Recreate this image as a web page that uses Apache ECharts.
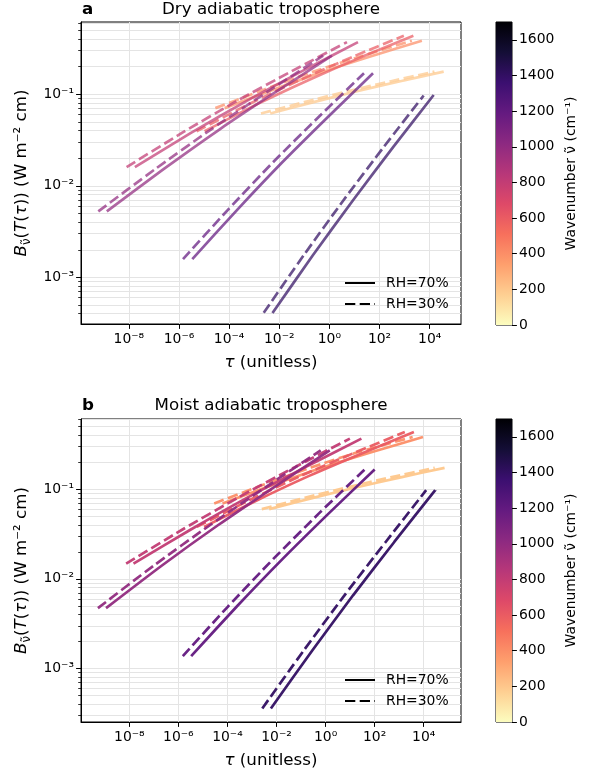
<!DOCTYPE html>
<html><head><meta charset="utf-8">
<script src="https://cdn.jsdelivr.net/npm/echarts@6/dist/echarts.min.js"></script>
<style>html,body{margin:0;padding:0;background:#fff}#c{width:594px;height:772px}</style>
</head><body><div id="c"></div><script>
// ---------------- data ----------------
const wavenumbers = [200, 400, 600, 800, 1000, 1200, 1400];
const xTickExps = [-8, -6, -4, -2, 0, 2, 4];
const yTickExps = [-3, -2, -1];
const colorbarTicks = [0, 200, 400, 600, 800, 1000, 1200, 1400, 1600];
const legendNames = ['RH=70%', 'RH=30%'];

// Panel a: dry adiabatic troposphere. log10(tau) and B (W m^-2 cm), one row per wavenumber
const dryLogTau70 = [
  [-2.36, -0.63, 1.10, 2.83, 4.56],
  [-4.18, -2.21, -0.24, 1.73, 3.69],
  [-4.98, -2.90, -0.80, 1.30, 3.35],
  [-7.76, -5.54, -3.31, -1.09, 1.14],
  [-8.88, -6.63, -4.39, -2.14, 0.10],
  [-5.47, -3.67, -1.87, -0.07, 1.74],
  [-2.27, -0.66, 0.95, 2.55, 4.16]
];
const dryB70 = [
  [0.0617, 0.0822, 0.108, 0.139, 0.177],
  [0.0706, 0.113, 0.177, 0.264, 0.385],
  [0.0394, 0.0776, 0.1445, 0.257, 0.437],
  [0.0160, 0.0376, 0.0843, 0.179, 0.372],
  [0.00525, 0.0151, 0.0412, 0.106, 0.264],
  [0.00158, 0.0055, 0.0182, 0.0562, 0.170],
  [0.000407, 0.00174, 0.0070, 0.0266, 0.0982]
];
const dryLogTau30 = [
  [-2.73, -1.00, 0.73, 2.46, 4.19],
  [-4.55, -2.59, -0.63, 1.33, 3.29],
  [-5.30, -3.23, -1.15, 0.93, 2.97],
  [-8.09, -5.90, -3.70, -1.50, 0.70],
  [-9.22, -6.97, -4.73, -2.48, -0.25],
  [-5.84, -4.04, -2.24, -0.44, 1.38],
  [-2.62, -1.02, 0.57, 2.17, 3.76]
];
const dryB30 = [
  [0.0617, 0.0822, 0.108, 0.139, 0.177],
  [0.0706, 0.113, 0.177, 0.264, 0.385],
  [0.0394, 0.0776, 0.1445, 0.257, 0.437],
  [0.0160, 0.0376, 0.0843, 0.179, 0.372],
  [0.00525, 0.0151, 0.0412, 0.106, 0.264],
  [0.00158, 0.0055, 0.0182, 0.0562, 0.170],
  [0.000410, 0.00175, 0.0070, 0.0266, 0.097]
];

// Panel b: moist adiabatic troposphere
const moistLogTau70 = [
  [-2.30, -0.51, 1.28, 3.06, 4.85],
  [-4.20, -2.16, -0.12, 1.93, 3.97],
  [-4.95, -2.81, -0.67, 1.47, 3.60],
  [-7.83, -5.51, -3.19, -0.86, 1.46],
  [-8.95, -6.67, -4.39, -2.11, 0.17],
  [-5.48, -3.61, -1.74, 0.13, 2.00],
  [-2.23, -0.55, 1.12, 2.80, 4.47]
];
const moistB70 = [
  [0.0600, 0.0800, 0.105, 0.1355, 0.1726],
  [0.0693, 0.111, 0.174, 0.261, 0.381],
  [0.0380, 0.0748, 0.1406, 0.250, 0.434],
  [0.0148, 0.0353, 0.0805, 0.174, 0.366],
  [0.00472, 0.0141, 0.0396, 0.105, 0.271],
  [0.00138, 0.00495, 0.0168, 0.0537, 0.166],
  [0.00036, 0.00158, 0.00656, 0.0258, 0.0975]
];
const moistLogTau30 = [
  [-2.60, -0.85, 0.90, 2.65, 4.45],
  [-4.54, -2.57, -0.60, 1.37, 3.55],
  [-5.25, -3.13, -1.01, 1.11, 3.23],
  [-8.13, -5.85, -3.57, -1.29, 0.99],
  [-9.28, -7.00, -4.72, -2.45, -0.20],
  [-5.82, -3.97, -2.12, -0.27, 1.60],
  [-2.58, -0.90, 0.77, 2.45, 4.10]
];
const moistB30 = [
  [0.0600, 0.0800, 0.105, 0.1355, 0.1726],
  [0.0693, 0.111, 0.174, 0.261, 0.381],
  [0.0380, 0.0748, 0.1406, 0.250, 0.434],
  [0.0148, 0.0353, 0.0805, 0.174, 0.366],
  [0.00472, 0.0141, 0.0396, 0.105, 0.271],
  [0.00138, 0.00495, 0.0168, 0.0537, 0.166],
  [0.00036, 0.00158, 0.00656, 0.0258, 0.0975]
];

// ---------------- styling ----------------
const FONT = 'DejaVu Sans';
const magmaStops = ['#000004','#140e36','#3b0f70','#641a80','#8c2981','#b73779','#de4968','#f7705c','#fe9f6d','#fecf92','#fcfdbf'];
function hex2rgb(h){return [parseInt(h.slice(1,3),16),parseInt(h.slice(3,5),16),parseInt(h.slice(5,7),16)];}
function magma(t){
  t = Math.max(0, Math.min(1, t));
  const p = t * 10, i = Math.min(9, Math.floor(p)), f = p - i;
  const a = hex2rgb(magmaStops[i]), b = hex2rgb(magmaStops[i+1]);
  const c = a.map((v,k)=>Math.round(v + (b[k]-v)*f));
  return 'rgb(' + c.join(',') + ')';
}
function cmap(nu){ return magma(1 - nu/1700); }
const supMap = {'-':'\u207B','0':'\u2070','1':'\u00B9','2':'\u00B2','3':'\u00B3','4':'\u2074','5':'\u2075','6':'\u2076','7':'\u2077','8':'\u2078','9':'\u2079'};
function pow10Label(v){ return '10' + String(Math.round(v)).split('').map(c=>supMap[c]).join(''); }

function minorVals(lo, hi){
  const out = [];
  for (let n = -5; n <= 0; n++) for (let k = 2; k <= 9; k++) { const v = n + Math.log10(k); if (v > lo && v < hi) out.push(v); }
  return out;
}

const panels = [
  {grid:{left:81, top:22, width:380, height:302}, cb:{left:496, top:22, width:16, height:303},
   x:[-9.91, 5.25], y:[-3.51, -0.21], title:'Dry adiabatic troposphere', letter:'a', titleTop:1,
   l70:dryLogTau70, b70:dryB70, l30:dryLogTau30, b30:dryB30, opacity:0.72, legendTop:276},
  {grid:{left:81, top:419, width:380, height:303}, cb:{left:496, top:419, width:16, height:303},
   x:[-9.97, 5.52], y:[-3.595, -0.218], title:'Moist adiabatic troposphere', letter:'b', titleTop:397,
   l70:moistLogTau70, b70:moistB70, l30:moistLogTau30, b30:moistB30, opacity:0.95, legendTop:673}
];

const grid = [], xAxis = [], yAxis = [], series = [], title = [], legend = [];
const gridColor = '#e4e4e4';
panels.forEach((P, pi) => {
  const g = grid.length;
  grid.push(Object.assign({show:true, borderColor:'#000', borderWidth:1, backgroundColor:'transparent', containLabel:false, outerBoundsMode:'none'}, P.grid));
  grid.push(Object.assign({show:true, borderColor:'#000', borderWidth:1, containLabel:false, outerBoundsMode:'none'}, P.cb));
  const xi = xAxis.length;
  xAxis.push({type:'value', gridIndex:g, min:P.x[0], max:P.x[1], position:'bottom',
    axisLine:{show:true, onZero:false, lineStyle:{color:'#000', width:1}},
    axisTick:{show:true, length:4.9, customValues:xTickExps, lineStyle:{color:'#000', width:1}},
    axisLabel:{show:true, customValues:xTickExps, formatter:pow10Label, margin:8, color:'#000', fontFamily:FONT, fontSize:13.9},
    splitLine:{show:true, lineStyle:{color:gridColor, width:1}},
    name:'{i|\u03C4} (unitless)', nameLocation:'middle', nameGap:30,
    nameTextStyle:{fontFamily:FONT, fontSize:16.7, color:'#000', rich:{i:{fontFamily:FONT, fontStyle:'italic', fontSize:16.7, color:'#000'}}}
  });
  xAxis.push({type:'category', gridIndex:g+1, data:['c'], show:false, boundaryGap:true});
  const yi = yAxis.length;
  yAxis.push({type:'value', gridIndex:g, min:P.y[0], max:P.y[1], position:'left',
    axisLine:{show:true, onZero:false, lineStyle:{color:'#000', width:1}},
    axisTick:{show:true, length:4.9, customValues:yTickExps, lineStyle:{color:'#000', width:1}},
    axisLabel:{show:true, customValues:yTickExps, formatter:pow10Label, margin:7, color:'#000', fontFamily:FONT, fontSize:13.9},
    splitLine:{show:true, lineStyle:{color:gridColor, width:1}},
    name:'{i|B}{s|\u03BD\u0303}({i|T}({i|\u03C4})) (W m\u207B\u00B2 cm)', nameLocation:'middle', nameGap:47, nameRotate:90,
    nameTextStyle:{fontFamily:FONT, fontSize:16.7, color:'#000', lineHeight:22,
      rich:{i:{fontFamily:FONT, fontStyle:'italic', fontSize:16.7, color:'#000', lineHeight:22},
            s:{fontFamily:FONT, fontSize:11.7, color:'#000', verticalAlign:'bottom', lineHeight:14}}}
  });
  yAxis.push({type:'value', gridIndex:g, min:P.y[0], max:P.y[1], position:'left', offset:0,
    axisLine:{show:false, onZero:false}, axisLabel:{show:false},
    axisTick:{show:true, length:2.8, customValues:minorVals(P.y[0], P.y[1]), lineStyle:{color:'#000', width:0.8}},
    splitLine:{show:true, lineStyle:{color:gridColor, width:1}}
  });
  const cbyi = yAxis.length;
  yAxis.push({type:'value', gridIndex:g+1, min:0, max:1700, position:'right',
    axisLine:{show:false, onZero:false},
    axisTick:{show:true, length:4.9, customValues:colorbarTicks, lineStyle:{color:'#000', width:1}},
    axisLabel:{show:true, customValues:colorbarTicks, formatter:v=>String(Math.round(v)), margin:7, color:'#000', fontFamily:FONT, fontSize:13.9},
    splitLine:{show:false},
    name:'Wavenumber \u03BD\u0303 (cm\u207B\u00B9)', nameLocation:'middle', nameRotate:90, nameGap:52,
    nameTextStyle:{fontFamily:FONT, fontSize:13.9, color:'#000'}
  });
  series.push({type:'bar', xAxisIndex:xi+1, yAxisIndex:cbyi, data:[1700], barWidth:'100%', silent:true, animation:false,
    itemStyle:{color:new echarts.graphic.LinearGradient(0,0,0,1, magmaStops.map((c,i)=>({offset:i/10, color:c})))}});

  wavenumbers.forEach((nu, k) => {
    const col = cmap(nu);
    [[P.l70, P.b70, 'solid'], [P.l30, P.b30, [10.3, 4.4]]].forEach(([L, B, type], r) => {
      series.push({type:'line', name:P.letter + nu + '_' + r, xAxisIndex:xi, yAxisIndex:yi,
        data:L[k].map((t,i)=>[t, Math.log10(B[k][i])]),
        symbol:'none', showSymbol:false, smooth:0.2, silent:true, animation:false, clip:true,
        lineStyle:{color:col, width:2.7, type:type, opacity:P.opacity, cap:'butt'}});
    });
  });

  title.push({text:P.title, left:271, textAlign:'center', top:P.titleTop, padding:0,
    textStyle:{fontFamily:FONT, fontSize:16.7, fontWeight:'normal', color:'#000'}});
  title.push({text:P.letter, left:82, top:P.titleTop, padding:0,
    textStyle:{fontFamily:FONT, fontSize:16.7, fontWeight:'bold', color:'#000'}});
  legend.push({data:legendNames, orient:'vertical', left:344, top:P.legendTop, itemWidth:30, itemHeight:14, itemGap:7,
    selectedMode:false, padding:0, itemStyle:{opacity:0},
    textStyle:{fontFamily:FONT, fontSize:13.9, color:'#000', padding:[0,0,0,6]}});
});
// legend proxy series (no data)
series.push({type:'line', name:legendNames[0], xAxisIndex:0, yAxisIndex:0, data:[], symbol:'none',
  lineStyle:{color:'#000', width:2.7, type:'solid'}, itemStyle:{color:'#000'}});
series.push({type:'line', name:legendNames[1], xAxisIndex:0, yAxisIndex:0, data:[], symbol:'none',
  lineStyle:{color:'#000', width:2.7, type:[10.3, 4.4]}, itemStyle:{color:'#000'}});

const chart = echarts.init(document.getElementById('c'), null, {renderer:'canvas'});
chart.setOption({animation:false, backgroundColor:'#fff', grid, xAxis, yAxis, series, title, legend});
</script></body></html>
